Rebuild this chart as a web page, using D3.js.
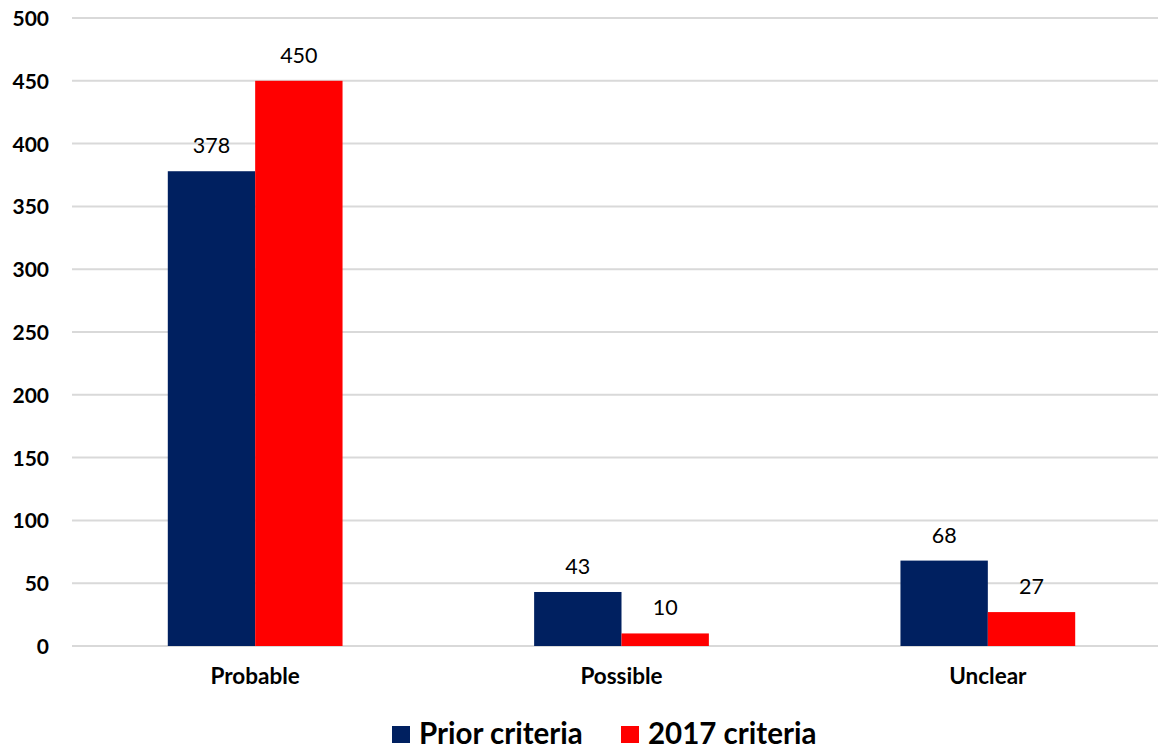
<!DOCTYPE html>
<html>
<head>
<meta charset="utf-8">
<script src="https://cdn.jsdelivr.net/npm/d3@7"></script>
<style>
  html, body { margin: 0; padding: 0; background: #ffffff; }
  svg { display: block; font-family: Lato, "Open Sans", "Liberation Sans", sans-serif; }
</style>
</head>
<body>
<svg id="chart" width="1158" height="750"></svg>
<script>
// Case counts by classification, under the prior and the 2017 criteria
const categories = ["Probable", "Possible", "Unclear"];
const seriesNames = ["Prior criteria", "2017 criteria"];
const priorValues = [378, 43, 68];
const criteria2017Values = [450, 10, 27];
const yTicks = [0, 50, 100, 150, 200, 250, 300, 350, 400, 450, 500];
const seriesColors = ["#002060", "#ff0000"];

const svg = d3.select("#chart");
const W = 1158, H = 750;
const plot = { left: 72, right: 1171, top: 18, bottom: 646 };

const y = d3.scaleLinear().domain([0, 500]).range([plot.bottom, plot.top]);
const x0 = d3.scaleBand().domain(categories).range([plot.left, plot.right]).padding(0);
const bw = x0.bandwidth();
const x1 = d3.scaleBand().domain(seriesNames).range([bw * 0.2615, bw * 0.7385]).padding(0);

const seriesValues = [priorValues, criteria2017Values];
const rows = categories.map((c, i) => ({
  category: c,
  values: seriesNames.map((s, j) => ({ series: s, value: seriesValues[j][i], color: seriesColors[j] }))
}));

// Horizontal gridlines
svg.append("g")
  .selectAll("line")
  .data(yTicks)
  .join("line")
  .attr("x1", plot.left)
  .attr("x2", W)
  .attr("y1", d => y(d))
  .attr("y2", d => y(d))
  .attr("stroke", "#d9d9d9")
  .attr("stroke-width", 2);

// Y axis labels
const yAxis = d3.axisLeft(y).tickValues(yTicks).tickSize(0).tickPadding(0);
const yg = svg.append("g")
  .attr("transform", `translate(49,0)`)
  .call(yAxis);
yg.select(".domain").remove();
yg.selectAll("text")
  .attr("font-family", "Lato, sans-serif")
  .attr("font-weight", 700)
  .attr("font-size", 21)
  .attr("fill", "#000")
  .attr("dy", "0.36em");

// Bars
const groups = svg.append("g")
  .selectAll("g")
  .data(rows)
  .join("g")
  .attr("transform", d => `translate(${x0(d.category)},0)`);

groups.selectAll("rect")
  .data(d => d.values)
  .join("rect")
  .attr("x", d => x1(d.series))
  .attr("width", x1.bandwidth())
  .attr("y", d => y(d.value))
  .attr("height", d => y(0) - y(d.value))
  .attr("fill", d => d.color);

// Value labels above bars
groups.selectAll("text.value")
  .data(d => d.values)
  .join("text")
  .attr("class", "value")
  .attr("x", d => x1(d.series) + x1.bandwidth() / 2)
  .attr("y", d => y(d.value) - 18)
  .attr("text-anchor", "middle")
  .attr("font-size", 21.5)
  .attr("font-weight", 400)
  .attr("fill", "#000")
  .text(d => d.value);

// Category labels
const xAxis = d3.axisBottom(x0).tickSize(0).tickPadding(0);
const xg = svg.append("g")
  .attr("transform", `translate(0,${plot.bottom})`)
  .call(xAxis);
xg.select(".domain").remove();
xg.selectAll("text")
  .attr("font-family", "Lato, sans-serif")
  .attr("font-weight", 700)
  .attr("font-size", 22.5)
  .attr("fill", "#000")
  .attr("dy", 0)
  .attr("y", 38);

// Legend
const legendItems = [
  { name: seriesNames[0], color: seriesColors[0], x: 392 },
  { name: seriesNames[1], color: seriesColors[1], x: 621 }
];
const legend = svg.append("g")
  .selectAll("g")
  .data(legendItems)
  .join("g")
  .attr("transform", d => `translate(${d.x},726)`);
legend.append("rect")
  .attr("width", 18)
  .attr("height", 17)
  .attr("fill", d => d.color);
legend.append("text")
  .attr("x", 27)
  .attr("y", 18)
  .attr("font-size", 29.5)
  .attr("font-weight", 700)
  .attr("fill", "#000")
  .text(d => d.name);
</script>
</body>
</html>
